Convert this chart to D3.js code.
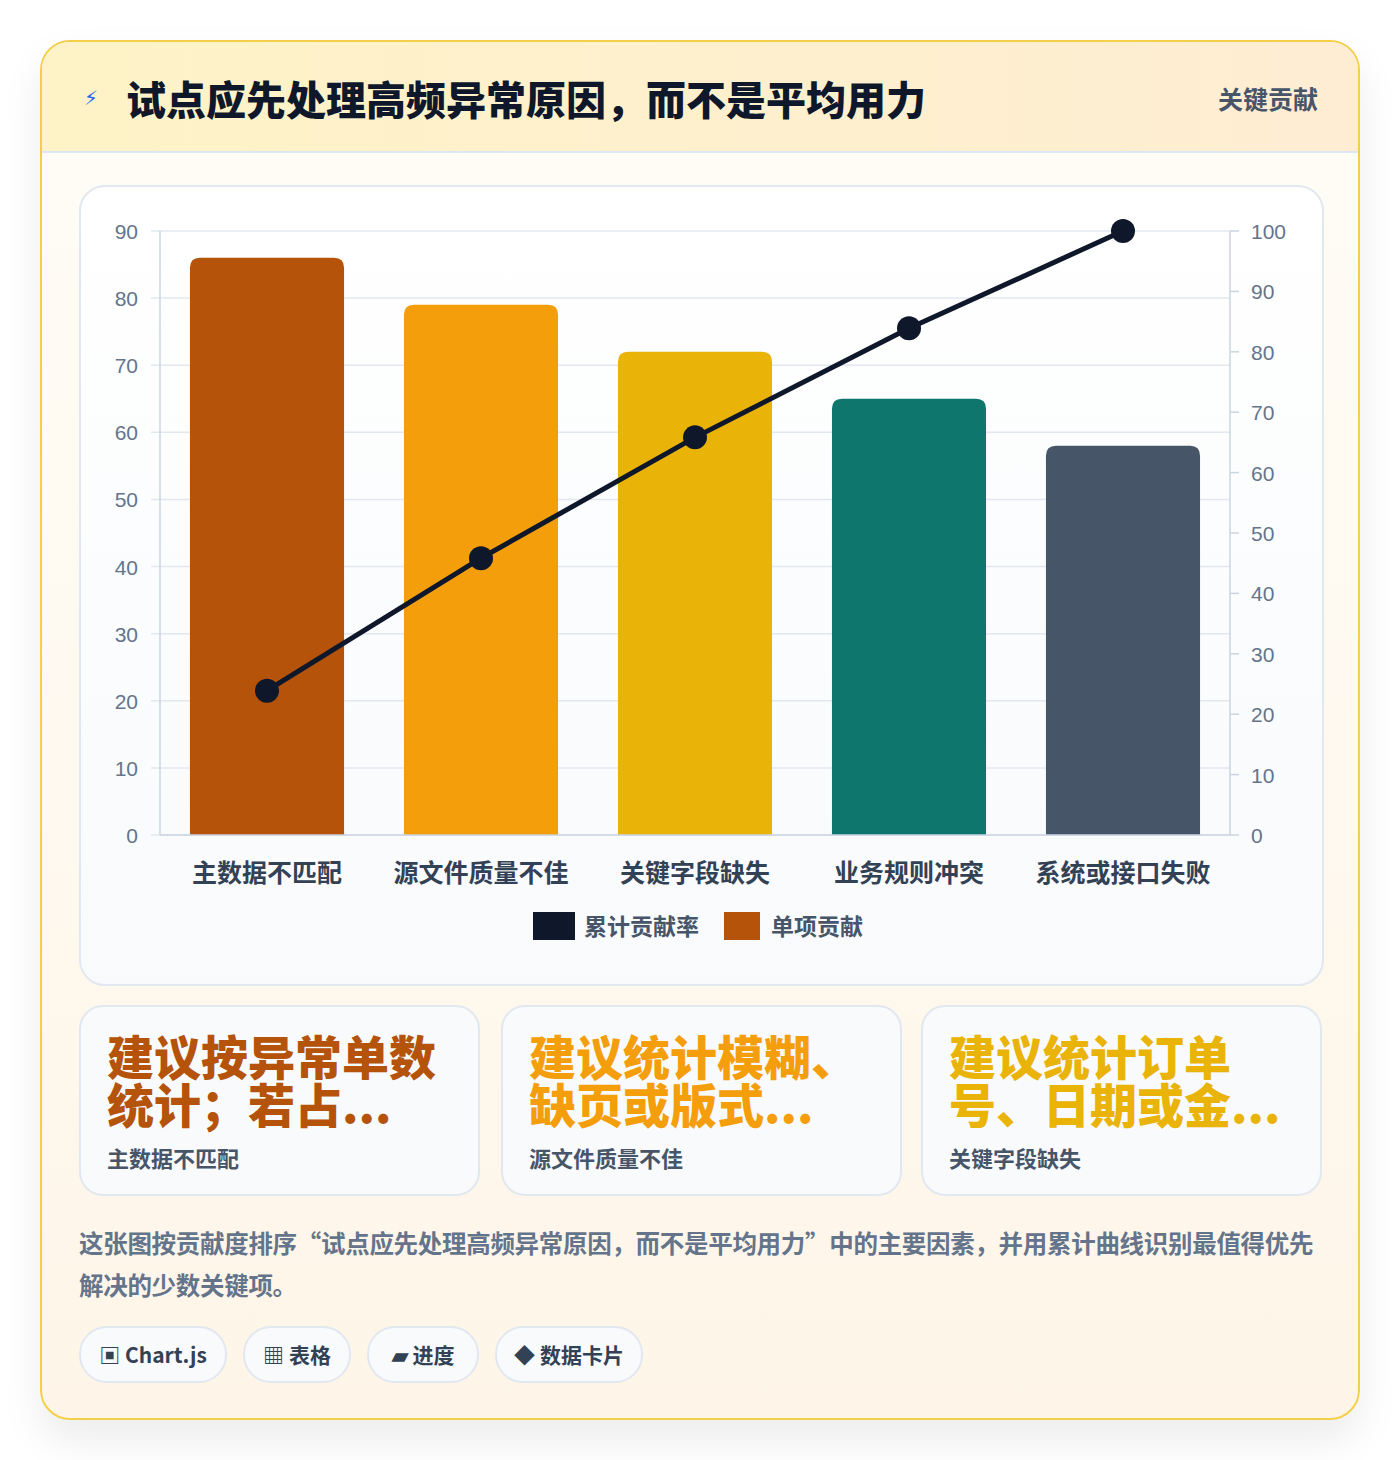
<!DOCTYPE html>
<html><head><meta charset="utf-8">
<script src="https://cdn.jsdelivr.net/npm/d3@7"></script>
<style>
body{margin:0;background:#fff;font-family:"Noto Sans CJK SC","Noto Sans",sans-serif;}
.card{position:absolute;left:40px;top:40px;width:1316px;height:1376px;border:2px solid #f5cf4a;border-radius:30px;overflow:hidden;
 background:linear-gradient(180deg,#fffdf7,#fef5e8);box-shadow:0 20px 40px rgba(0,0,0,0.08);}
.head{height:109px;background:linear-gradient(90deg,#fef3c7,#feedd3);border-bottom:2px solid #dbe7f5;position:relative;}
.head h1{position:absolute;left:84px;top:27px;margin:0;font-size:40px;font-weight:900;color:#0f172a;}
.head .bolt{position:absolute;left:42px;top:44px;color:#2563eb;font-size:20px;font-family:"DejaVu Sans";}
.head .tag{position:absolute;right:40px;top:38px;font-size:25px;font-weight:700;color:#475569;}
.panel{position:absolute;left:37px;top:143px;width:1241px;height:797px;border:2px solid #e2e8f0;border-radius:26px;background:linear-gradient(180deg,#fff,#f8fafc);}
.kpi{position:absolute;top:963px;width:397px;height:187px;border:2px solid #e2e8f0;border-radius:24px;background:#f8fafc;}
.kpi .v{position:absolute;left:26px;font-size:47px;font-weight:900;line-height:48px;white-space:nowrap;}
.kpi .l{position:absolute;left:26px;top:134px;font-size:22px;font-weight:700;color:#475569;}
.desc{position:absolute;left:37px;top:1180px;width:1245px;font-size:24.5px;font-weight:700;color:#64748b;line-height:42px;letter-spacing:-0.3px;}
.pill{position:absolute;top:1284px;height:53px;border:2px solid #e2e8f0;border-radius:28px;background:#f8fafc;font-size:21px;font-weight:700;color:#334155;line-height:53px;text-align:center;}
</style></head><body>
<div class="card">
 <div class="head"><span class="bolt">⚡</span><h1>试点应先处理高频异常原因，而不是平均用力</h1><span class="tag">关键贡献</span></div>
 <div class="panel"><svg id="chart" width="1241" height="797"></svg></div>
 <div id="kpis"></div>
 <div class="desc">这张图按贡献度排序“试点应先处理高频异常原因，而不是平均用力”中的主要因素，并用累计曲线识别最值得优先解决的少数关键项。</div>
 <div class="pill" style="left:37px;width:144px">▣ Chart.js</div>
 <div class="pill" style="left:201px;width:104px">▦ 表格</div>
 <div class="pill" style="left:325px;width:108px">▰ 进度</div>
 <div class="pill" style="left:453px;width:144px">◆ 数据卡片</div>
</div>
<script>
var categories = ["主数据不匹配","源文件质量不佳","关键字段缺失","业务规则冲突","系统或接口失败"];
var values     = [86, 79, 72, 65, 58];
var barColors  = ["#b45309","#f59e0b","#eab308","#0f766e","#475569"];
var leftTicks  = [0,10,20,30,40,50,60,70,80,90];
var rightTicks = [0,10,20,30,40,50,60,70,80,90,100];
var kpiLines   = [["建议按异常单数","统计；若占..."],["建议统计模糊、","缺页或版式..."],["建议统计订单","号、日期或金..."]];

var total = d3.sum(values), run = 0;
var cumulative = values.map(function(v) { run += v; return run / total * 100; });

var svg = d3.select("#chart");
var x  = d3.scaleBand().domain(categories).range([79, 1149]).paddingInner(0.28).paddingOuter(0.14);
var yL = d3.scaleLinear().domain([0, 90]).range([648, 44]);
var yR = d3.scaleLinear().domain([0, 100]).range([648, 44]);

svg.selectAll(".grid").data(leftTicks).enter().append("line")
	.attr("x1", 70).attr("x2", 1149)
	.attr("y1", function(d) { return yL(d); }).attr("y2", function(d) { return yL(d); })
	.attr("stroke", "#e2e8f0").attr("stroke-width", 1.5);
svg.append("line").attr("x1",79).attr("x2",79).attr("y1",44).attr("y2",648).attr("stroke","#cbd5e1").attr("stroke-width",1.5);
svg.append("line").attr("x1",1149).attr("x2",1149).attr("y1",44).attr("y2",648).attr("stroke","#cbd5e1").attr("stroke-width",1.5);
svg.selectAll(".rt").data(rightTicks).enter().append("line")
	.attr("x1", 1149).attr("x2", 1158)
	.attr("y1", function(d) { return yR(d); }).attr("y2", function(d) { return yR(d); })
	.attr("stroke", "#cbd5e1").attr("stroke-width", 1.5);

svg.selectAll(".lt").data(leftTicks).enter().append("text")
	.attr("x", 57).attr("y", function(d) { return yL(d) + 8; })
	.attr("text-anchor", "end").attr("font-size", 21).attr("fill", "#64748b")
	.attr("font-family", "Liberation Sans, sans-serif").text(function(d) { return d; });
svg.selectAll(".rtl").data(rightTicks).enter().append("text")
	.attr("x", 1170).attr("y", function(d) { return yR(d) + 8; })
	.attr("font-size", 21).attr("fill", "#64748b")
	.attr("font-family", "Liberation Sans, sans-serif").text(function(d) { return d; });

svg.selectAll(".bar").data(values).enter().append("path")
	.attr("fill", function(d, i) { return barColors[i]; })
	.attr("d", function(d, i) {
		var x0 = x(categories[i]), w = x.bandwidth(), y0 = yL(d), r = 10;
		return "M" + x0 + "," + yL(0) + "V" + (y0 + r) + "Q" + x0 + "," + y0 + " " + (x0 + r) + "," + y0 +
			"H" + (x0 + w - r) + "Q" + (x0 + w) + "," + y0 + " " + (x0 + w) + "," + (y0 + r) + "V" + yL(0) + "Z";
	});
svg.append("line").attr("x1",79).attr("x2",1149).attr("y1",648).attr("y2",648).attr("stroke","#cbd5e1").attr("stroke-width",1.5);

svg.selectAll(".cat").data(categories).enter().append("text")
	.attr("x", function(d) { return x(d) + x.bandwidth() / 2; }).attr("y", 695)
	.attr("text-anchor", "middle").attr("font-size", 25).attr("font-weight", 700).attr("fill", "#334155")
	.text(function(d) { return d; });

var line = d3.line()
	.x(function(d, i) { return x(categories[i]) + x.bandwidth() / 2; })
	.y(function(d) { return yR(d); });
svg.append("path").datum(cumulative).attr("d", line).attr("fill", "none").attr("stroke", "#0f172a").attr("stroke-width", 5);
svg.selectAll(".pt").data(cumulative).enter().append("circle")
	.attr("cx", function(d, i) { return x(categories[i]) + x.bandwidth() / 2; })
	.attr("cy", function(d) { return yR(d); }).attr("r", 12).attr("fill", "#0f172a");

var lg = svg.append("g").attr("transform", "translate(452,725)");
lg.append("rect").attr("width", 42).attr("height", 28).attr("fill", "#0f172a");
lg.append("text").attr("x", 51).attr("y", 23).attr("font-size", 23).attr("font-weight", 700).attr("fill", "#475569").text("累计贡献率");
lg.append("rect").attr("x", 191).attr("width", 36).attr("height", 28).attr("fill", "#b45309");
lg.append("text").attr("x", 238).attr("y", 23).attr("font-size", 23).attr("font-weight", 700).attr("fill", "#475569").text("单项贡献");

var lefts = [37, 459, 879];
d3.select("#kpis").selectAll(".kpi").data(kpiLines).enter().append("div")
	.attr("class", "kpi").style("left", function(d, i) { return lefts[i] + "px"; })
	.each(function(d, i) {
		var el = d3.select(this);
		d.forEach(function(t, j) {
			el.append("div").attr("class", "v").style("top", (24 + j * 48) + "px")
				.style("color", barColors[i]).text(t);
		});
		el.append("div").attr("class", "l").text(categories[i]);
	});
</script>
</body></html>
